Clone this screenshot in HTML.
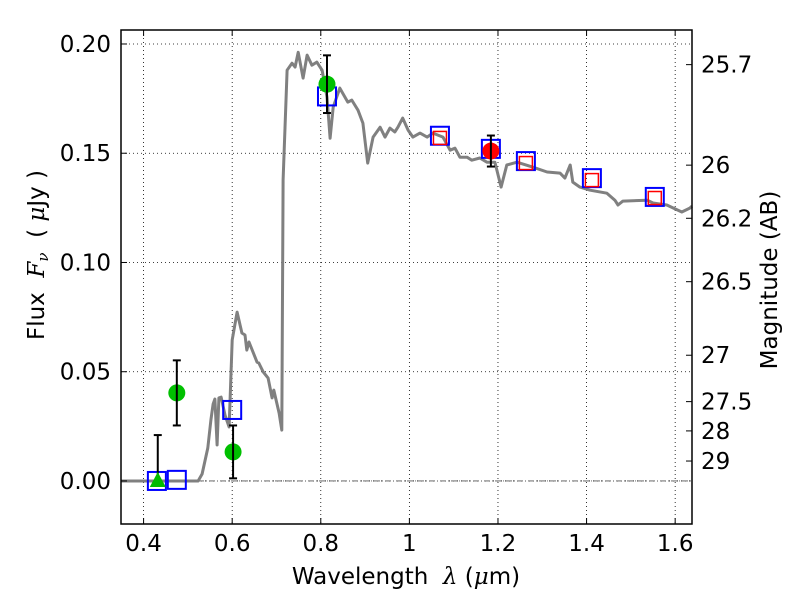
<!DOCTYPE html>
<html><head><meta charset="utf-8"><style>
body{margin:0;background:#fff;}
svg text{font-family:"DejaVu Sans","Liberation Sans",sans-serif;font-size:23px;fill:#000;white-space:pre;}
</style></head><body>
<svg id="chart" width="800" height="600" xmlns="http://www.w3.org/2000/svg">
<g id="grid"></g>
<g id="plot"></g>
<g id="axes"></g>
<text x="406" y="584" text-anchor="middle">Wavelength  <tspan font-style="italic" font-family="DejaVu Serif">λ</tspan> (<tspan font-style="italic" font-family="DejaVu Serif">μ</tspan>m)</text>
<text transform="translate(44,255) rotate(-90)" text-anchor="middle">Flux  <tspan font-style="italic" font-family="DejaVu Serif">F<tspan font-size="15" dy="4">ν</tspan></tspan><tspan dy="-4">  ( </tspan><tspan font-style="italic" font-family="DejaVu Serif">μ</tspan>Jy )</text>
<text transform="translate(777,280) rotate(-90)" text-anchor="middle">Magnitude (AB)</text>
</svg>
<script>
const specLam=[0.349,0.52,0.523,0.532,0.545,0.552,0.557,0.561,0.566,0.570,0.575,0.584,0.593,0.600,0.611,0.622,0.629,0.633,0.638,0.656,0.660,0.670,0.681,0.690,0.694,0.706,0.712,0.715,0.724,0.735,0.742,0.749,0.760,0.769,0.780,0.791,0.803,0.814,0.821,0.828,0.843,0.861,0.870,0.884,0.895,0.906,0.918,0.934,0.945,0.956,0.967,0.974,0.985,0.997,1.008,1.024,1.040,1.053,1.076,1.092,1.103,1.114,1.130,1.141,1.159,1.175,1.193,1.207,1.220,1.243,1.279,1.311,1.340,1.351,1.363,1.369,1.385,1.408,1.446,1.464,1.471,1.482,1.537,1.550,1.581,1.615,1.633,1.638];
const specFlux=[0,0,0,0.0032,0.0151,0.0279,0.0352,0.0375,0.0165,0.038,0.0384,0.030,0.0247,0.0645,0.0773,0.0677,0.0668,0.0599,0.0636,0.0544,0.054,0.0499,0.0471,0.038,0.0416,0.0311,0.0233,0.1377,0.188,0.1912,0.1894,0.1962,0.1844,0.1949,0.1903,0.1917,0.188,0.1757,0.1569,0.1711,0.1798,0.1734,0.1743,0.1697,0.1638,0.1455,0.1574,0.1619,0.1574,0.1615,0.1597,0.1619,0.1661,0.1606,0.1574,0.1592,0.1574,0.1592,0.1574,0.1514,0.1523,0.1482,0.1482,0.1468,0.1478,0.1459,0.1459,0.1345,0.1446,0.1459,0.1436,0.1414,0.1409,0.1386,0.1446,0.1368,0.1345,0.1331,0.1317,0.1285,0.1263,0.1281,0.1285,0.1272,0.1263,0.1231,0.1249,0.1258];
const modelLam=[0.430,0.475,0.600,0.814,1.069,1.184,1.263,1.412,1.554];
const modelFlux=[0.0,0.0005,0.0325,0.176,0.158,0.152,0.1464,0.1386,0.130];
const redSqLam=[1.069,1.263,1.412,1.554];
const redSqFlux=[0.157,0.1455,0.1377,0.1295];
const greenLam=[0.475,0.602,0.814];
const greenFlux=[0.0403,0.0133,0.1816];
const greenErr=[0.0149,0.0121,0.0132];
const triLam=[0.432];const triFlux=[0.0];const triErrTop=[0.021];
const redLam=[1.184];const redFlux=[0.151];const redErr=[0.0071];
const xTicks=[0.4,0.6,0.8,1.0,1.2,1.4,1.6];
const xTickLabels=["0.4","0.6","0.8","1","1.2","1.4","1.6"];
const yTicks=[0,0.05,0.10,0.15,0.20];
const yTickLabels=["0.00","0.05","0.10","0.15","0.20"];
const magTicks=[25.7,26,26.2,26.5,27,27.5,28,29];
const magLabels=["25.7","26","26.2","26.5","27","27.5","28","29"];

const L=121,R=692,T=30,B=524;
const xMin=0.349,xMax=1.638,yMin=-0.0197,yMax=0.2064;
const sx=v=>L+(v-xMin)/(xMax-xMin)*(R-L);
const sy=v=>B-(v-yMin)/(yMax-yMin)*(B-T);
const NS="http://www.w3.org/2000/svg";
function mk(tag,attrs,parent){const e=document.createElementNS(NS,tag);for(const k in attrs)e.setAttribute(k,attrs[k]);parent.appendChild(e);return e;}
const grid=document.getElementById('grid'),plot=document.getElementById('plot'),axes=document.getElementById('axes');

xTicks.forEach(v=>{const g=mk('line',{x1:sx(v),x2:sx(v),y1:T,y2:B,stroke:'#000','stroke-width':0.8,'stroke-dasharray':'1,3'},grid);

});
yTicks.forEach(v=>{const g=mk('line',{x1:L,x2:R,y1:sy(v),y2:sy(v),stroke:'#000','stroke-width':0.8,'stroke-dasharray':'1,3'},grid);

});
const zl=mk('line',{x1:L,x2:R,y1:sy(0),y2:sy(0),stroke:'#555','stroke-width':0.8,'stroke-dasharray':'6,2,1,2'},grid);



const d=specLam.map((l,i)=>(i?'L':'M')+sx(l).toFixed(1)+','+sy(specFlux[i]).toFixed(1)).join('');
const sp=mk('path',{d:d,fill:'none',stroke:'#808080','stroke-width':3,'stroke-linejoin':'round'},plot);



function errbar(x,lo,hi){const g=mk('g',{stroke:'#000','stroke-width':2},plot);
mk('line',{x1:sx(x),x2:sx(x),y1:sy(lo),y2:sy(hi)},g);
mk('line',{x1:sx(x)-4,x2:sx(x)+4,y1:sy(lo),y2:sy(lo)},g);
mk('line',{x1:sx(x)-4,x2:sx(x)+4,y1:sy(hi),y2:sy(hi)},g);

}

modelLam.forEach((l,i)=>{const r=mk('rect',{x:sx(l)-9,y:sy(modelFlux[i])-9,width:18,height:18,fill:'none',stroke:'#0000ff','stroke-width':2},plot);

});
redSqLam.forEach((l,i)=>{const r=mk('rect',{x:sx(l)-6.5,y:sy(redSqFlux[i])-6.5,width:13,height:13,fill:'none',stroke:'#ff0000','stroke-width':1.5},plot);

});
triLam.forEach((l,i)=>{errbar(l,triFlux[i],triErrTop[i]);const x=sx(l),y=sy(triFlux[i]);
const t=mk('polygon',{points:`${x},${y-9} ${x-8},${y+6} ${x+8},${y+6}`,fill:'#00bb00'},plot);

});
greenLam.forEach((l,i)=>{const c=mk('circle',{cx:sx(l),cy:sy(greenFlux[i]),r:8.5,fill:'#00c000'},plot);


errbar(l,greenFlux[i]-greenErr[i],greenFlux[i]+greenErr[i]);});
redLam.forEach((l,i)=>{const c=mk('circle',{cx:sx(l),cy:sy(redFlux[i]),r:8.5,fill:'#ff0000'},plot);


errbar(l,redFlux[i]-redErr[i],redFlux[i]+redErr[i]);});

const fr=mk('rect',{x:L,y:T,width:R-L,height:B-T,fill:'none',stroke:'#000','stroke-width':1.5},axes);


xTicks.forEach((v,i)=>{mk('line',{x1:sx(v),x2:sx(v),y1:B,y2:B-6,stroke:'#000'},axes);mk('line',{x1:sx(v),x2:sx(v),y1:T,y2:T+6,stroke:'#000'},axes);
const t=mk('text',{x:sx(v),y:B+27,'text-anchor':'middle'},axes);t.textContent=xTickLabels[i];

});
yTicks.forEach((v,i)=>{mk('line',{x1:L,x2:L+6,y1:sy(v),y2:sy(v),stroke:'#000'},axes);
const t=mk('text',{x:L-10,y:sy(v)+8,'text-anchor':'end'},axes);t.textContent=yTickLabels[i];

});
magTicks.forEach((m,i)=>{const f=Math.pow(10,(23.9-m)/2.5);const y=sy(f);
mk('line',{x1:R,x2:R-6,y1:y,y2:y,stroke:'#000'},axes);
const t=mk('text',{x:R+9,y:y+8,'text-anchor':'start'},axes);t.textContent=magLabels[i];

});
</script>
</body></html>
